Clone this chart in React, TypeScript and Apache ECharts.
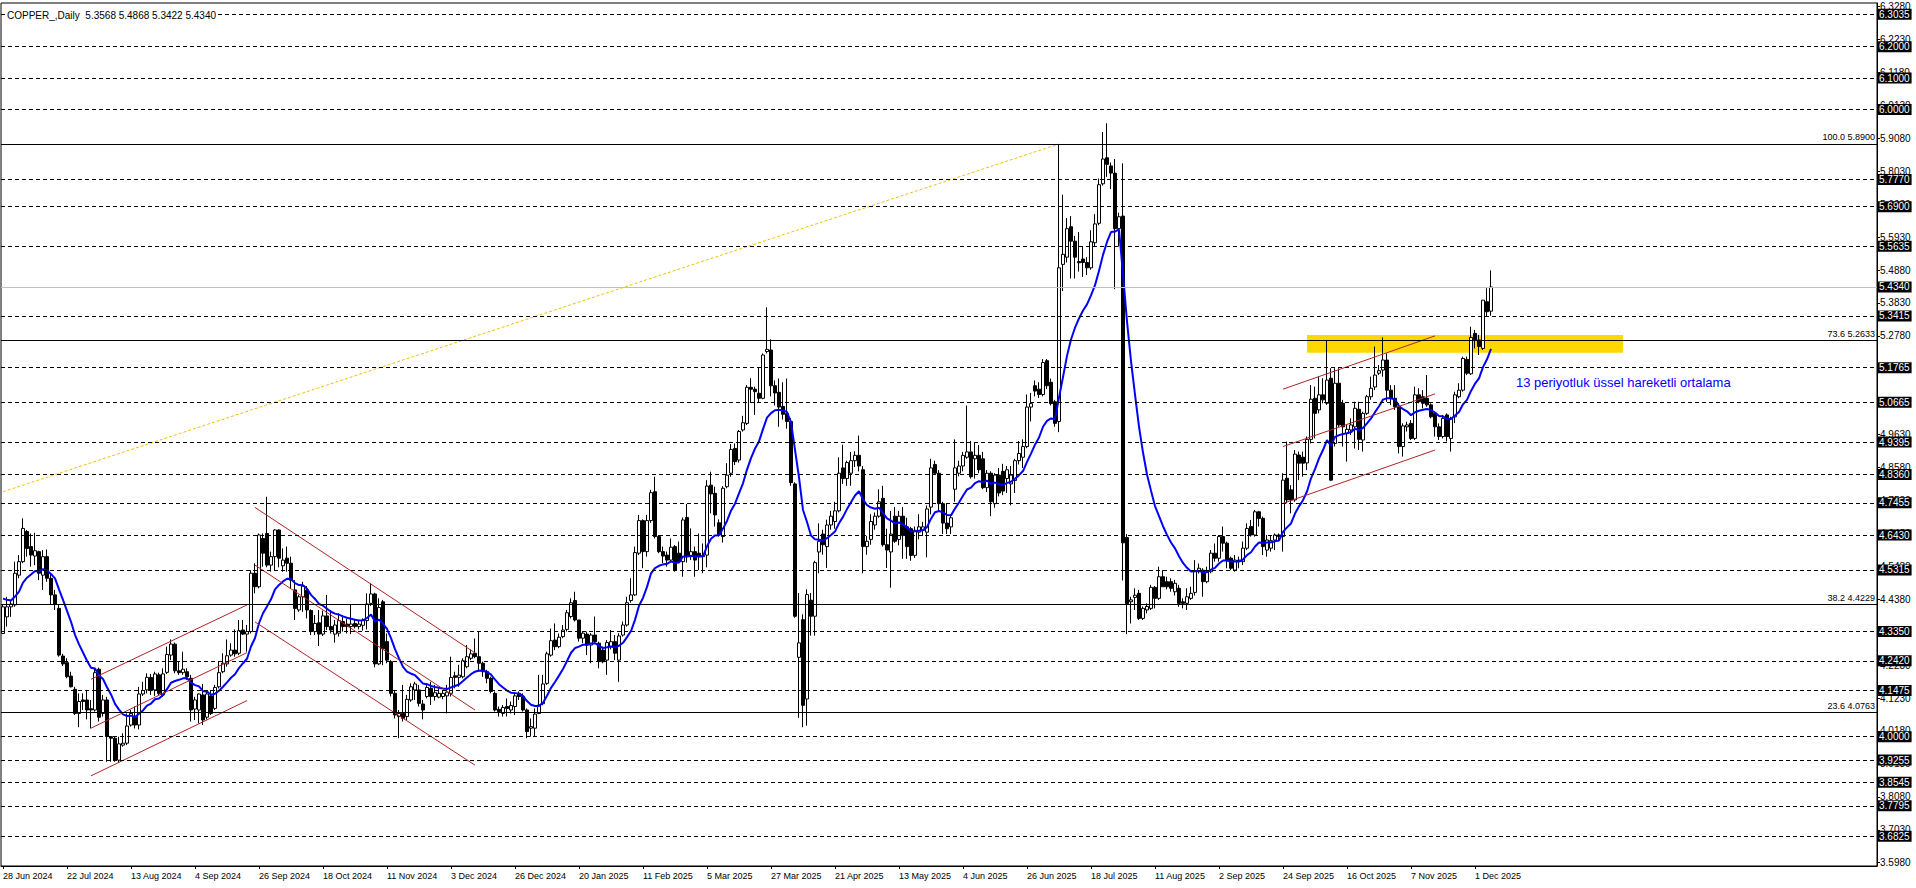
import React, { useEffect, useRef } from "react";
import * as echarts from "echarts";

// ---- data (COPPER daily, 28 Jun 2024 - 5 Dec 2025) ----
const OPEN = [
  4.329,4.382,4.414,4.420,4.515,4.558,4.654,4.606,4.576,4.590,
  4.515,4.574,4.505,4.452,4.409,4.257,4.236,4.193,4.151,4.074,
  4.117,4.117,4.089,4.085,4.215,4.074,4.117,4.000,3.995,3.925,
  3.973,3.979,4.037,4.062,4.037,4.136,4.149,4.189,4.149,4.197,
  4.133,4.205,4.260,4.295,4.210,4.204,4.207,4.186,4.088,4.085,
  4.133,4.062,4.130,4.090,4.159,4.207,4.232,4.260,4.276,4.266,
  4.340,4.327,4.335,4.521,4.478,4.632,4.648,4.547,4.574,4.659,
  4.545,4.569,4.553,4.468,4.404,4.446,4.468,4.402,4.335,4.363,
  4.327,4.385,4.351,4.327,4.330,4.367,4.359,4.351,4.361,4.351,
  4.355,4.370,4.425,4.455,4.232,4.430,4.303,4.239,4.138,4.064,
  4.074,4.064,4.117,4.149,4.149,4.104,4.128,4.154,4.128,4.126,
  4.128,4.130,4.138,4.194,4.189,4.191,4.223,4.250,4.266,4.255,
  4.234,4.207,4.186,4.138,4.087,4.074,4.096,4.085,4.096,4.138,
  4.128,4.085,4.027,4.027,4.074,4.105,4.170,4.260,4.308,4.287,
  4.319,4.342,4.383,4.434,4.372,4.314,4.327,4.292,4.324,4.298,
  4.276,4.244,4.287,4.303,4.244,4.324,4.356,4.434,4.452,4.585,
  4.689,4.590,4.689,4.781,4.638,4.590,4.579,4.563,4.606,4.585,
  4.558,4.699,4.574,4.590,4.585,4.574,4.579,4.802,4.776,4.682,
  4.638,4.797,4.840,4.919,4.882,4.978,4.999,5.114,5.108,5.095,
  5.079,5.228,5.233,5.119,5.098,5.053,5.030,5.005,4.806,4.253,
  4.373,4.120,4.435,4.384,4.589,4.646,4.606,4.675,4.686,4.720,
  4.857,4.823,4.840,4.880,4.897,4.851,4.606,4.629,4.675,4.703,
  4.760,4.612,4.589,4.703,4.629,4.703,4.669,4.663,4.578,4.652,
  4.658,4.652,4.732,4.868,4.840,4.743,4.681,4.669,4.789,4.840,
  4.863,4.891,4.908,4.886,4.897,4.886,4.794,4.840,4.743,4.834,
  4.846,4.823,4.806,4.817,4.880,4.891,4.925,5.051,5.119,5.108,
  5.091,5.199,5.130,5.068,5.005,5.506,5.529,5.626,5.580,5.515,
  5.523,5.512,5.495,5.575,5.637,5.763,5.846,5.820,5.797,5.620,
  5.660,4.635,4.430,4.444,4.457,4.377,4.404,4.409,4.476,4.441,
  4.510,4.494,4.494,4.462,4.473,4.430,4.425,4.441,4.460,4.526,
  4.531,4.494,4.526,4.585,4.569,4.638,4.617,4.569,4.531,4.563,
  4.558,4.601,4.670,4.643,4.717,4.696,4.595,4.601,4.627,4.643,
  4.638,4.824,4.787,4.755,4.898,4.891,4.873,4.948,5.079,5.042,
  5.090,5.063,5.143,4.935,5.127,5.063,4.967,4.978,4.988,5.044,
  4.946,5.031,5.084,5.115,5.159,5.169,5.201,5.105,5.079,5.052,
  4.925,4.988,4.999,4.951,5.090,5.084,5.079,5.058,5.031,4.988,
  4.957,5.026,4.951,5.020,5.084,5.105,5.203,5.157,5.286,5.265,
  5.238,5.387,5.3568,
];
const HIGH = [
  4.420,4.446,4.436,4.558,4.579,4.696,4.659,4.648,4.650,4.593,
  4.595,4.597,4.519,4.468,4.420,4.264,4.250,4.207,4.159,4.138,
  4.138,4.149,4.117,4.218,4.220,4.133,4.127,4.002,4.000,4.000,
  4.011,4.074,4.085,4.096,4.159,4.175,4.202,4.200,4.207,4.204,
  4.218,4.287,4.310,4.300,4.239,4.271,4.218,4.197,4.127,4.138,
  4.168,4.149,4.149,4.165,4.239,4.266,4.310,4.298,4.342,4.372,
  4.372,4.356,4.531,4.553,4.648,4.648,4.765,4.590,4.661,4.661,
  4.600,4.606,4.574,4.499,4.452,4.494,4.480,4.406,4.388,4.404,
  4.402,4.452,4.404,4.372,4.393,4.388,4.377,4.423,4.372,4.372,
  4.377,4.457,4.489,4.459,4.441,4.436,4.329,4.244,4.149,4.085,
  4.165,4.133,4.170,4.175,4.165,4.117,4.165,4.175,4.165,4.154,
  4.149,4.165,4.255,4.207,4.229,4.250,4.292,4.278,4.313,4.335,
  4.239,4.213,4.191,4.144,4.096,4.101,4.122,4.112,4.138,4.144,
  4.138,4.090,4.058,4.090,4.197,4.197,4.271,4.345,4.361,4.329,
  4.356,4.404,4.441,4.462,4.372,4.335,4.335,4.330,4.383,4.303,
  4.287,4.308,4.340,4.324,4.330,4.367,4.446,4.505,4.606,4.707,
  4.693,4.707,4.787,4.829,4.643,4.606,4.590,4.632,4.611,4.622,
  4.699,4.742,4.664,4.606,4.648,4.616,4.818,4.845,4.797,4.693,
  4.799,4.872,4.933,4.935,4.978,5.023,5.121,5.143,5.116,5.178,
  5.222,5.369,5.267,5.136,5.142,5.130,5.142,5.016,4.811,4.458,
  4.390,4.470,4.458,4.561,4.680,4.660,4.692,4.720,4.749,4.891,
  4.931,4.880,4.908,4.910,4.960,4.863,4.640,4.709,4.715,4.789,
  4.800,4.663,4.720,4.732,4.720,4.732,4.698,4.669,4.670,4.709,
  4.685,4.737,4.886,4.880,4.850,4.749,4.743,4.709,4.948,4.880,
  4.908,5.056,4.943,4.937,4.930,4.908,4.850,4.846,4.840,4.857,
  4.870,4.863,4.863,4.886,4.943,4.948,5.091,5.096,5.136,5.130,
  5.204,5.204,5.142,5.074,5.889,5.728,5.654,5.660,5.597,5.609,
  5.563,5.529,5.615,5.666,5.780,5.928,5.956,5.831,5.842,5.671,
  5.828,4.646,4.446,4.473,4.468,4.415,4.425,4.484,4.480,4.542,
  4.531,4.510,4.505,4.500,4.484,4.441,4.473,4.478,4.563,4.552,
  4.537,4.542,4.595,4.616,4.643,4.670,4.622,4.574,4.579,4.574,
  4.622,4.680,4.691,4.723,4.720,4.702,4.643,4.643,4.648,4.648,
  4.840,4.941,4.802,4.914,4.909,4.909,4.957,5.121,5.116,5.148,
  5.143,5.262,5.175,5.175,5.175,5.074,4.994,5.015,5.068,5.068,
  5.036,5.090,5.148,5.244,5.185,5.273,5.222,5.121,5.121,5.063,
  4.999,5.004,5.010,5.116,5.111,5.105,5.153,5.063,5.036,4.999,
  5.026,5.031,5.020,5.100,5.127,5.212,5.212,5.307,5.297,5.281,
  5.392,5.430,5.4868,
];
const LOW = [
  4.327,4.351,4.382,4.414,4.505,4.553,4.574,4.542,4.547,4.499,
  4.468,4.494,4.420,4.404,4.255,4.225,4.186,4.157,4.069,4.030,
  4.085,4.055,4.026,4.080,4.048,4.064,3.920,3.920,3.920,3.917,
  3.968,3.973,4.032,4.026,4.023,4.130,4.138,4.133,4.130,4.130,
  4.127,4.200,4.244,4.202,4.197,4.197,4.181,4.048,4.053,4.042,
  4.037,4.055,4.069,4.085,4.154,4.202,4.223,4.255,4.255,4.260,
  4.324,4.271,4.329,4.457,4.473,4.542,4.540,4.526,4.531,4.540,
  4.526,4.526,4.473,4.372,4.398,4.398,4.377,4.324,4.324,4.289,
  4.321,4.340,4.329,4.300,4.319,4.335,4.329,4.327,4.345,4.342,
  4.338,4.342,4.417,4.221,4.228,4.228,4.234,4.128,4.058,3.995,
  4.048,4.053,4.111,4.117,4.096,4.055,4.122,4.101,4.115,4.122,
  4.119,4.074,4.128,4.154,4.159,4.186,4.218,4.244,4.250,4.207,
  4.191,4.170,4.138,4.080,4.064,4.064,4.064,4.074,4.069,4.117,
  4.080,3.995,4.000,4.000,4.072,4.100,4.165,4.255,4.276,4.282,
  4.314,4.335,4.377,4.367,4.303,4.298,4.260,4.234,4.298,4.218,
  4.234,4.197,4.278,4.244,4.175,4.319,4.351,4.427,4.449,4.579,
  4.537,4.574,4.682,4.632,4.585,4.553,4.542,4.558,4.526,4.553,
  4.510,4.555,4.563,4.510,4.531,4.521,4.540,4.712,4.670,4.638,
  4.619,4.792,4.829,4.866,4.874,4.973,4.994,5.065,5.026,5.065,
  5.076,5.222,5.085,5.056,4.988,5.011,4.982,4.800,4.379,4.060,
  4.030,4.035,4.322,4.322,4.521,4.580,4.538,4.660,4.663,4.715,
  4.806,4.800,4.800,4.860,4.846,4.521,4.580,4.612,4.660,4.698,
  4.606,4.538,4.475,4.618,4.610,4.567,4.567,4.561,4.570,4.629,
  4.640,4.572,4.709,4.834,4.720,4.646,4.646,4.646,4.749,4.830,
  4.846,4.886,4.823,4.823,4.840,4.789,4.780,4.703,4.730,4.766,
  4.770,4.777,4.738,4.777,4.868,4.857,4.920,5.005,5.085,5.080,
  5.085,5.108,5.056,4.988,4.971,5.421,5.512,5.461,5.461,5.483,
  5.466,5.472,5.489,5.563,5.631,5.757,5.785,5.746,5.427,5.563,
  4.498,4.327,4.361,4.404,4.372,4.372,4.393,4.404,4.409,4.436,
  4.478,4.470,4.462,4.450,4.414,4.409,4.404,4.436,4.450,4.520,
  4.446,4.489,4.521,4.558,4.558,4.590,4.537,4.531,4.526,4.537,
  4.547,4.595,4.638,4.638,4.670,4.579,4.574,4.590,4.595,4.627,
  4.590,4.744,4.712,4.749,4.818,4.829,4.850,4.935,4.951,5.031,
  5.063,5.058,4.816,4.925,4.988,4.925,4.877,4.962,4.919,4.914,
  4.909,5.026,5.074,5.105,5.153,5.148,5.068,5.057,5.042,4.903,
  4.893,4.973,4.946,4.946,5.063,5.047,5.052,5.015,4.957,4.946,
  4.951,4.941,4.909,5.000,5.079,5.100,5.153,5.153,5.238,5.217,
  5.233,5.339,5.3422,
];
const CLOSE = [
  4.414,4.414,4.423,4.521,4.558,4.664,4.600,4.579,4.593,4.521,
  4.574,4.505,4.452,4.423,4.260,4.232,4.191,4.159,4.074,4.112,
  4.112,4.085,4.085,4.204,4.062,4.117,4.000,3.995,3.925,3.977,
  3.979,4.034,4.074,4.037,4.136,4.147,4.189,4.147,4.200,4.138,
  4.200,4.262,4.295,4.210,4.204,4.215,4.191,4.085,4.117,4.136,
  4.053,4.136,4.074,4.157,4.204,4.234,4.258,4.276,4.264,4.338,
  4.327,4.335,4.521,4.478,4.643,4.585,4.547,4.574,4.659,4.569,
  4.563,4.553,4.499,4.409,4.446,4.480,4.404,4.335,4.361,4.327,
  4.385,4.351,4.340,4.356,4.370,4.351,4.351,4.359,4.351,4.359,
  4.372,4.423,4.455,4.232,4.412,4.280,4.244,4.138,4.069,4.074,
  4.058,4.119,4.159,4.168,4.106,4.085,4.157,4.128,4.140,4.138,
  4.138,4.142,4.189,4.189,4.196,4.242,4.255,4.264,4.255,4.234,
  4.207,4.186,4.144,4.085,4.080,4.093,4.090,4.099,4.130,4.128,
  4.085,4.016,4.032,4.072,4.101,4.168,4.264,4.306,4.287,4.317,
  4.340,4.395,4.427,4.372,4.314,4.330,4.292,4.324,4.303,4.239,
  4.239,4.300,4.303,4.266,4.321,4.356,4.427,4.452,4.587,4.689,
  4.590,4.689,4.778,4.638,4.590,4.576,4.563,4.604,4.531,4.558,
  4.691,4.574,4.590,4.563,4.574,4.578,4.799,4.774,4.707,4.643,
  4.792,4.834,4.916,4.877,4.973,5.001,5.114,5.108,5.100,5.079,
  5.217,5.235,5.119,5.096,5.051,5.028,5.005,4.810,4.384,4.299,
  4.100,4.453,4.384,4.555,4.623,4.612,4.675,4.703,4.720,4.840,
  4.823,4.874,4.880,4.897,4.863,4.606,4.623,4.686,4.703,4.749,
  4.612,4.595,4.646,4.623,4.703,4.641,4.606,4.578,4.658,4.669,
  4.669,4.726,4.857,4.840,4.743,4.681,4.663,4.698,4.857,4.863,
  4.897,4.908,4.829,4.897,4.851,4.794,4.840,4.749,4.834,4.777,
  4.783,4.851,4.834,4.880,4.903,4.925,5.051,5.062,5.102,5.091,
  5.193,5.119,5.062,4.999,5.495,5.538,5.620,5.580,5.529,5.511,
  5.512,5.495,5.578,5.635,5.760,5.842,5.825,5.797,5.620,5.658,
  4.618,4.424,4.436,4.451,4.377,4.409,4.415,4.476,4.441,4.510,
  4.478,4.478,4.473,4.489,4.425,4.425,4.446,4.457,4.530,4.537,
  4.494,4.526,4.585,4.569,4.638,4.617,4.563,4.537,4.563,4.558,
  4.601,4.664,4.643,4.717,4.696,4.606,4.627,4.625,4.643,4.638,
  4.818,4.755,4.755,4.901,4.872,4.872,4.948,5.076,5.031,5.090,
  5.074,5.137,4.818,5.127,4.994,4.988,4.980,4.994,5.047,4.948,
  5.031,5.084,5.111,5.153,5.167,5.201,5.105,5.079,5.052,4.925,
  4.991,4.994,4.951,5.090,5.068,5.063,5.058,5.020,4.988,4.957,
  5.015,4.957,5.015,5.090,5.105,5.206,5.159,5.273,5.265,5.244,
  5.392,5.355,5.434,
];

const DATE_LABELS = [
  "28 Jun 2024", "22 Jul 2024", "13 Aug 2024", "4 Sep 2024", "26 Sep 2024",
  "18 Oct 2024", "11 Nov 2024", "3 Dec 2024", "26 Dec 2024", "20 Jan 2025",
  "11 Feb 2025", "5 Mar 2025", "27 Mar 2025", "21 Apr 2025", "13 May 2025",
  "4 Jun 2025", "26 Jun 2025", "18 Jul 2025", "11 Aug 2025", "2 Sep 2025",
  "24 Sep 2025", "16 Oct 2025", "7 Nov 2025", "1 Dec 2025",
];
const LABEL_STEP = 16; // bars between date labels
const SLOT_COUNT = 469; // bar slots across the chart (incl. empty right shift)

const Y_TICKS = [
  3.598, 3.703, 3.808, 3.913, 4.018, 4.123, 4.228, 4.333, 4.438, 4.543,
  4.648, 4.753, 4.858, 4.963, 5.068, 5.173, 5.278, 5.383, 5.488, 5.593,
  5.698, 5.803, 5.908, 6.013, 6.118, 6.223, 6.328,
];
const Y_MIN = 3.5875;
const Y_MAX = 6.3395;

const H_LEVELS = [
  6.3035, 6.2, 6.1, 6.0, 5.777, 5.69, 5.5635, 5.3415, 5.1765, 5.0665, 4.9395,
  4.836, 4.7455, 4.643, 4.5315, 4.335, 4.242, 4.1475, 4.0, 3.9255, 3.8545,
  3.7795, 3.6825,
];
const BID_PRICE = 5.434;
const FIB_RATIOS = ["100.0", "73.6", "38.2", "23.6"];
const FIB_PRICES = [5.89, 5.2633, 4.4229, 4.0763];

const CHANNEL_LINES = [
  [[22, 4.183], [61, 4.42]],
  [[22, 4.027], [61, 4.268]],
  [[22, 3.875], [61, 4.115]],
  [[63, 4.731], [118, 4.267]],
  [[63, 4.547], [118, 4.085]],
  [[63, 4.366], [118, 3.909]],
  [[320, 5.108], [358, 5.278]],
  [[320, 4.925], [358, 5.093]],
  [[320, 4.744], [358, 4.914]],
];
const FIB_TREND = [[0, 4.781], [264, 5.89]];
const ZONE_X = [326, 405];
const ZONE_Y = [5.2243, 5.2808];

const EMA_PERIOD = 13;
const EMA_START = 4.44;

const TITLE = "COPPER_,Daily  5.3568 5.4868 5.3422 5.4340";
const NOTE = "13 periyotluk üssel hareketli ortalama";

const FONT = '"Liberation Sans", Arial, sans-serif';

function buildEma(): number[] {
  const k = 2 / (EMA_PERIOD + 1);
  const out: number[] = [];
  let prev = EMA_START;
  CLOSE.forEach((c, i) => {
    if (i > 0) prev = prev + (c - prev) * k;
    out.push(+prev.toFixed(4));
  });
  return out;
}

export default function App() {
  const ref = useRef<HTMLDivElement>(null);

  useEffect(() => {
    if (!ref.current) return;
    const chart = echarts.init(ref.current, undefined, { renderer: "svg" });

    const categories = Array.from({ length: SLOT_COUNT }, (_, i) => String(i));
    const candles = OPEN.map((o, i) => [o, CLOSE[i], LOW[i], HIGH[i]]);
    const ema = buildEma();
    const showIdx = (idx: number) =>
      idx % LABEL_STEP === 0 && idx / LABEL_STEP < DATE_LABELS.length;

    const tagLabel = {
      show: true,
      position: "end",
      distance: 0,
      color: "#fff",
      backgroundColor: "#000",
      padding: [1, 2, 0, 2],
      fontSize: 10,
      lineHeight: 10,
      fontFamily: FONT,
      formatter: (p: any) => Number(p.value).toFixed(4),
    };

    const markLineData: any[] = [];
    H_LEVELS.forEach((v) =>
      markLineData.push({
        yAxis: v,
        lineStyle: { color: "#000", width: 1, type: [4, 3] },
        label: tagLabel,
      })
    );
    markLineData.push({
      yAxis: BID_PRICE,
      lineStyle: { color: "#c0c0c0", width: 1, type: "solid" },
      label: tagLabel,
    });
    FIB_PRICES.forEach((v, i) =>
      markLineData.push({
        yAxis: v,
        lineStyle: { color: "#000", width: 1, type: "solid" },
        label: {
          show: true,
          position: "insideEndTop",
          distance: 2,
          color: "#000",
          fontSize: 9,
          fontFamily: FONT,
          formatter: `${FIB_RATIOS[i]} ${v.toFixed(4)}`,
        },
      })
    );

    const trendSeries = CHANNEL_LINES.map((seg) => ({
      type: "line",
      data: seg,
      symbol: "none",
      silent: true,
      z: 4,
      lineStyle: { color: "#b22222", width: 1 },
    }));

    chart.setOption({
      animation: false,
      backgroundColor: "#fff",
      title: {
        text: TITLE,
        left: 5,
        top: 9,
        padding: [0, 2],
        backgroundColor: "#fff",
        textStyle: {
          fontSize: 10,
          fontWeight: "normal",
          fontFamily: FONT,
          color: "#000",
          lineHeight: 12,
        },
      },
      grid: {
        left: 1,
        right: 39,
        top: 3,
        bottom: 22,
        show: true,
        borderColor: "#000",
        borderWidth: 1,
        backgroundColor: "#fff",
      },
      xAxis: {
        type: "category",
        data: categories,
        boundaryGap: true,
        axisLine: { show: true, lineStyle: { color: "#000", width: 1 } },
        axisTick: {
          show: true,
          alignWithLabel: true,
          length: 3,
          interval: (idx: number) => showIdx(idx),
          lineStyle: { color: "#000" },
        },
        axisLabel: {
          show: true,
          interval: (idx: number) => showIdx(idx),
          formatter: (_v: string, idx: number) =>
            DATE_LABELS[Math.round(idx / LABEL_STEP)] ?? "",
          align: "left",
          margin: 5,
          fontSize: 9,
          fontFamily: FONT,
          color: "#000",
        },
        splitLine: { show: false },
      },
      yAxis: {
        type: "value",
        position: "right",
        min: Y_MIN,
        max: Y_MAX,
        axisLine: { show: true, onZero: false, lineStyle: { color: "#000", width: 1 } },
        axisTick: {
          show: true,
          length: 3,
          customValues: Y_TICKS,
          lineStyle: { color: "#000" },
        },
        axisLabel: {
          show: true,
          customValues: Y_TICKS,
          formatter: (v: number) => v.toFixed(4),
          margin: 3,
          fontSize: 10,
          fontFamily: FONT,
          color: "#000",
        },
        splitLine: { show: false },
      },
      graphic: [
        {
          type: "text",
          left: 1516,
          top: 376,
          z: 10,
          style: {
            text: NOTE,
            fill: "#0000ff",
            font: `13px ${FONT}`,
          },
        },
      ],
      series: [
        {
          type: "candlestick",
          name: "COPPER",
          data: candles,
          barWidth: 3,
          z: 2,
          silent: true,
          itemStyle: {
            color: "#ffffff",
            color0: "#000000",
            borderColor: "#000000",
            borderColor0: "#000000",
            borderWidth: 1,
          },
          markArea: {
            silent: true,
            itemStyle: { color: "#ffd700", opacity: 1 },
            data: [
              [
                { xAxis: ZONE_X[0], yAxis: ZONE_Y[1] },
                { xAxis: ZONE_X[1], yAxis: ZONE_Y[0] },
              ],
            ],
          },
          markLine: {
            silent: true,
            symbol: ["none", "none"],
            precision: 4,
            data: markLineData,
          },
        },
        {
          type: "line",
          name: "EMA13",
          data: ema,
          symbol: "none",
          silent: true,
          z: 4,
          lineStyle: { color: "#0000ff", width: 2 },
        },
        ...trendSeries,
        {
          type: "line",
          data: FIB_TREND,
          symbol: "none",
          silent: true,
          z: 4,
          lineStyle: { color: "#f5c000", width: 1, type: [3, 2] },
        },
      ],
    });

    return () => chart.dispose();
  }, []);

  return (
    <div
      ref={ref}
      style={{ position: "fixed", left: 0, top: 0, width: 1916, height: 888 }}
    />
  );
}
